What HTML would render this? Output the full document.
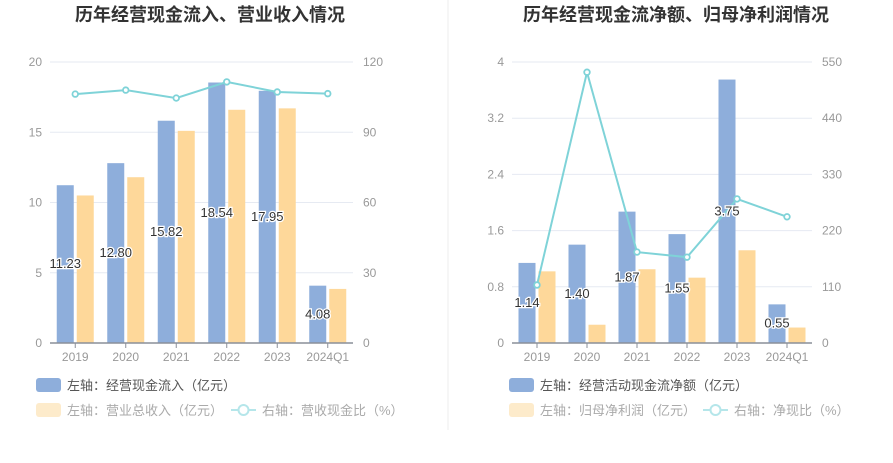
<!DOCTYPE html>
<html><head><meta charset="utf-8"><style>
body{margin:0;background:#fff;font-family:"Liberation Sans","Noto Sans CJK SC",sans-serif;}
svg text{font-family:"Liberation Sans","Noto Sans CJK SC",sans-serif;}
</style></head><body>
<svg id="c" width="893" height="458" xmlns="http://www.w3.org/2000/svg">
<line x1="448" y1="0" x2="448" y2="430" stroke="#eee"/>
<text x="210" y="21" text-anchor="middle" font-size="18" font-weight="bold" fill="#333">历年经营现金流入、营业收入情况</text>
<text x="676" y="21" text-anchor="middle" font-size="18" font-weight="bold" fill="#333">历年经营现金流净额、归母净利润情况</text>
<g>
<rect x="36" y="378" width="25" height="14" rx="3" fill="#8eaedb"/>
<text x="67" y="390" font-size="13" fill="#555">左轴：经营现金流入（亿元）</text>
<rect x="36" y="403" width="25" height="14" rx="3" fill="#fdebcb"/>
<text x="67" y="415" font-size="13" fill="#aaa">左轴：营业总收入（亿元）</text>
<line x1="231" y1="410" x2="256" y2="410" stroke="#b5e6ea" stroke-width="2"/>
<circle cx="243.5" cy="410" r="5" fill="#fff" stroke="#b5e6ea" stroke-width="2"/>
<text x="262" y="415" font-size="13" fill="#aaa">右轴：营收现金比（%）</text>
</g>
<g>
<rect x="509" y="378" width="25" height="14" rx="3" fill="#8eaedb"/>
<text x="540" y="390" font-size="13" fill="#555">左轴：经营活动现金流净额（亿元）</text>
<rect x="509" y="403" width="25" height="14" rx="3" fill="#fdebcb"/>
<text x="540" y="415" font-size="13" fill="#aaa">左轴：归母净利润（亿元）</text>
<line x1="703" y1="410" x2="728" y2="410" stroke="#b5e6ea" stroke-width="2"/>
<circle cx="715.5" cy="410" r="5" fill="#fff" stroke="#b5e6ea" stroke-width="2"/>
<text x="734" y="415" font-size="13" fill="#aaa">右轴：净现比（%）</text>
</g>
</svg>
<script>
const categories = ["2019","2020","2021","2022","2023","2024Q1"];
const leftBlue = [11.23,12.80,15.82,18.54,17.95,4.08];
const leftOrange = [10.5,11.8,15.1,16.6,16.7,3.85];
const leftLine = [106.3,108,104.6,111.5,107.2,106.5];
const leftTicks = [0,5,10,15,20];
const leftRTicks = [0,30,60,90,120];
const rightBlue = [1.14,1.40,1.87,1.55,3.75,0.55];
const rightOrange = [1.02,0.26,1.05,0.93,1.32,0.22];
const rightLine = [113.5,530,178,168,282,247];
const rightTicks = [0,0.8,1.6,2.4,3.2,4];
const rightRTicks = [0,110,220,330,440,550];

const NS="http://www.w3.org/2000/svg";
const svg=document.getElementById('c');
function mk(t,a,p){const e=document.createElementNS(NS,t);for(const k in a)e.setAttribute(k,a[k]);(p||svg).appendChild(e);return e;}

function draw(cfg){
  const {x0,x1,top,bot,blue,orange,line,lt,rt,lmax,rmax,prefix}=cfg;
  const g=mk('g',{});
  
  
  const yL=v=>bot-(v/lmax)*(bot-top);
  const yR=v=>bot-(v/rmax)*(bot-top);
  const bw=(x1-x0)/categories.length;
  const cx=i=>x0+bw*(i+0.5);
  lt.forEach((t,i)=>{
    const y=yL(t);
    if(i>0){const gl=mk('line',{x1:x0,x2:x1,y1:y,y2:y,stroke:'#e6eaf2'},g);
      
      }
    const tx=mk('text',{x:x0-8,y:y+4,'text-anchor':'end','font-size':12,fill:'#999'},g);tx.textContent=t;
    
    
  });
  rt.forEach(t=>{
    const tx=mk('text',{x:x1+10,y:yR(t)+4,'font-size':12,fill:'#999'},g);tx.textContent=t;
    
    
  });
  const w=17;
  categories.forEach((c,i)=>{
    const b=mk('rect',{x:cx(i)-w-1.5,y:yL(blue[i]),width:w,height:bot-yL(blue[i]),fill:'#8eaedb'},g);
    
    
    const o=mk('rect',{x:cx(i)+1.5,y:yL(orange[i]),width:w,height:bot-yL(orange[i]),fill:'#fed89a'},g);
    
    
    const tk=mk('line',{x1:cx(i),x2:cx(i),y1:bot,y2:bot+5,stroke:'#8a8f99'},g);
    
    
    const xl=mk('text',{x:cx(i),y:bot+18,'text-anchor':'middle','font-size':12,fill:'#999'},g);xl.textContent=c;
    
    
  });
  const ax=mk('line',{x1:x0,x2:x1,y1:bot,y2:bot,stroke:'#8a8f99','stroke-width':1.5},g);
  
  
  const pts=line.map((v,i)=>cx(i)+','+yR(v)).join(' ');
  const pl=mk('polyline',{points:pts,fill:'none',stroke:'#7fd3d8','stroke-width':2},g);
  
  
  line.forEach((v,i)=>{
    const p=mk('circle',{cx:cx(i),cy:yR(v),r:2.8,fill:'#fff',stroke:'#7fd3d8','stroke-width':1.8},g);
    
    
  });
  blue.forEach((v,i)=>{
    const y=(yL(v)+bot)/2+4;
    const lb=mk('text',{x:cx(i)-w/2-1.5,y:y,'text-anchor':'middle','font-size':13,fill:'#333',stroke:'#fff','stroke-width':2.5,'paint-order':'stroke'},g);
    lb.textContent=v.toFixed(2);
    
    
  });
}
draw({x0:50,x1:353,top:62,bot:343,blue:leftBlue,orange:leftOrange,line:leftLine,lt:leftTicks,rt:leftRTicks,lmax:20,rmax:120,prefix:'left'});
draw({x0:512,x1:812,top:62,bot:343,blue:rightBlue,orange:rightOrange,line:rightLine,lt:rightTicks,rt:rightRTicks,lmax:4,rmax:550,prefix:'right'});
</script>
</body></html>
